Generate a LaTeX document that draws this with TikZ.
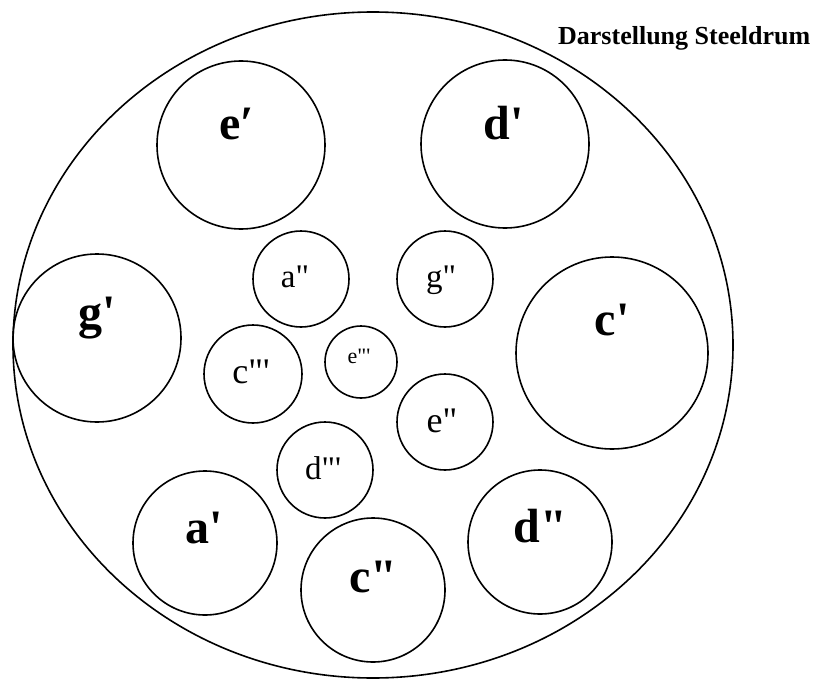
\documentclass[tikz,border=0pt]{standalone}
\usepackage{fontspec}
\setmainfont{Liberation Serif}[Ligatures=TeXOff]
\begin{document}
\begin{tikzpicture}[x=1pt, y=-1pt, line width=1.6pt,
    pan/.style={draw, circle, inner sep=0pt, minimum size=#1},
    bignote/.style={anchor=base, inner sep=0pt, font=\fontsize{48}{48}\selectfont\bfseries},
    smallnote/.style={anchor=base, inner sep=0pt, font=\fontsize{#1}{#1}\selectfont},
    smallnote/.default=33]
    \useasboundingbox (0,0) rectangle (818,679);

    % titulo
    \node[anchor=base east, inner sep=0pt, font=\fontsize{26}{26}\selectfont\bfseries]
        (titulo) at (811,45) {Darstellung Steeldrum};

    % cuerpo del tambor
    \draw (373,345) ellipse (360 and 333);

    % notas grandes (anillo exterior)
    \node[pan=168] (eI) at (241,145) {};
    \node[pan=168] (dI) at (505,144) {};
    \node[pan=168] (gI) at (97,338) {};
    \node[pan=192] (cI) at (612,353) {};
    \node[pan=144] (aI) at (205,543) {};
    \node[pan=144] (cII) at (373,590) {};
    \node[pan=144] (dII) at (540,542) {};
    \node[bignote] at (237,140) {e′};
    \node[bignote] at (504,140) {d'};
    \node[bignote] at (97,328) {g'};
    \node[bignote] at (612,335) {c'};
    \node[bignote] at (204,543) {a'};
    \node[bignote] at (373,592) {c"};
    \node[bignote] at (540,542) {d"};

    % notas pequenas (centro)
    \node[pan=96] (aII) at (301,279) {};
    \node[pan=96] (gII) at (445,279) {};
    \node[pan=98] (cIII) at (253,374) {};
    \node[pan=72] (eIII) at (361,362) {};
    \node[pan=96] (eII) at (445,422) {};
    \node[pan=96] (dIII) at (325,470) {};
    \node[smallnote] at (295,287) {a"};
    \node[smallnote] at (441,287) {g"};
    \node[smallnote=36] at (251,383) {c"'};
    \node[smallnote=22] at (359,363) {e"'};
    \node[smallnote=36] at (442,432) {e"};
    \node[smallnote] at (323,479) {d"'};
\end{tikzpicture}
\end{document}
